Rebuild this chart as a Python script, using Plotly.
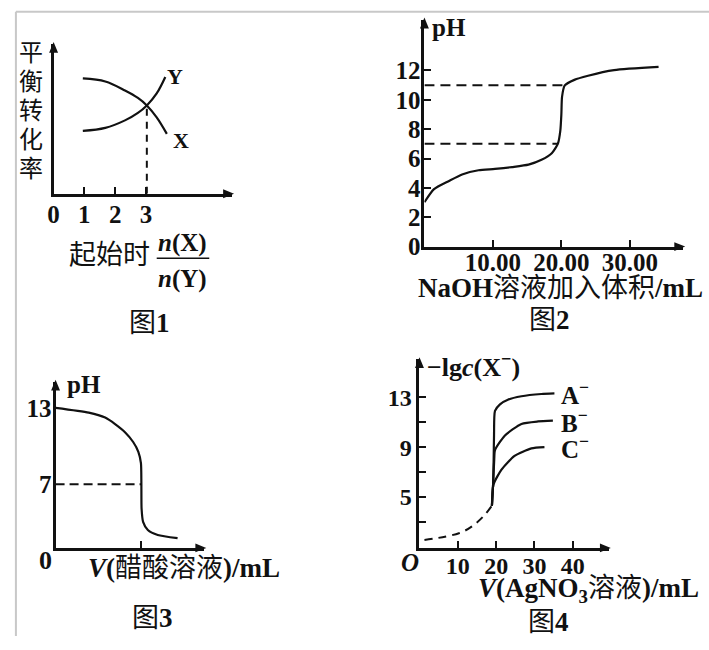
import plotly.graph_objects as go

W, H = 709, 650

# ---------------- data ----------------
# 图1  equilibrium conversion vs n(X)/n(Y)
f1_ratio_Y = [0.95, 1.68, 2.32, 2.74, 3.03, 3.35, 3.63]
f1_conv_Y = [0.42, 0.44, 0.49, 0.54, 0.59, 0.67, 0.78]
f1_ratio_X = [0.95, 1.68, 2.32, 2.74, 3.03, 3.35, 3.68]
f1_conv_X = [0.77, 0.75, 0.69, 0.64, 0.59, 0.51, 0.40]
f1_ticks = [0, 1, 2, 3]
f1_cross_ratio = [3.03, 3.03]
f1_cross_conv = [0, 0.59]

# 图2  pH vs V(NaOH)
f2_vol = [0, 1.4, 3.6, 5.5, 7.9, 10.3, 12.8, 15.2, 17.1, 18.6, 19.5, 19.85, 20.0,
          20.1, 20.5, 21.9, 23.9, 27.7, 34.2]
f2_ph = [3.02, 3.91, 4.47, 4.91, 5.2, 5.29, 5.42, 5.58, 5.91, 6.36, 7.02, 7.9, 9.0,
         10.2, 10.98, 11.36, 11.64, 12.02, 12.24]
f2_guide_ph = [7, 11]
f2_guide_vol_end = [19.5, 20.5]
f2_yticks = [0, 2, 4, 6, 8, 10, 12]
f2_xticks = [10, 20, 30]
f2_xticklabels = ["10.00", "20.00", "30.00"]

# 图3  pH vs V(醋酸)
f3_vol = [0, 7.7, 11.5, 13.8, 16.1, 18.0, 19.2, 19.8, 19.9, 19.95, 20.3, 21.4, 23.7, 28.3]
f3_ph = [13.02, 12.64, 12.25, 11.74, 11.1, 10.33, 9.56, 8.67, 7.13, 5.08, 4.05, 3.41, 3.02, 2.77]
f3_yticks = [13, 7]
f3_eq_vol = 19.9

# 图4  -lgc(X-) vs V(AgNO3)
f4_dash_vol = [1.3, 10.3, 13.7, 16.8, 18.9]
f4_dash_val = [1.55, 2.1, 2.65, 3.5, 4.3]
f4_A_vol = [18.9, 19.2, 19.35, 19.45, 19.7, 21.0, 23.2, 26.6, 31.8, 35.2]
f4_A_val = [4.3, 6.0, 8.0, 10.0, 11.9, 12.43, 12.82, 13.08, 13.26, 13.31]
f4_B_vol = [18.9, 19.2, 19.5, 19.7, 22.3, 26.6, 30.9, 34.8]
f4_B_val = [4.3, 6.0, 8.0, 8.76, 9.94, 10.86, 11.06, 11.12]
f4_C_vol = [18.9, 19.3, 21.4, 24.8, 29.2, 32.6]
f4_C_val = [4.3, 6.0, 7.2, 8.3, 8.9, 9.0]
f4_ions = ["A", "B", "C"]
f4_yticks = [13, 9, 5]
f4_yminor = [11, 7, 3]
f4_xticks = [10, 20, 30, 40]

# ---------------- helpers ----------------
MIX = "Liberation Serif, Noto Sans CJK SC, serif"
BLACK = "#111111"


def px(x):
    return x / W


def py(y):
    return 1 - y / H


def xdom(a, b):
    return [px(a), px(b)]


def ydom(bottom, top):
    return [py(bottom), py(top)]


def axis(domain, rng, anchor, fs=25, **kw):
    d = dict(domain=domain, range=rng, anchor=anchor, showline=True, linecolor=BLACK,
             linewidth=3, showgrid=False, zeroline=False, ticks="", fixedrange=True,
             tickfont=dict(family=MIX, size=fs, color=BLACK, weight="bold"), ticklen=7,
             tickwidth=2, tickcolor=BLACK, showticklabels=False)
    d.update(kw)
    return d


line = dict(color=BLACK, width=2.2)

fig = go.Figure()

# Fig 1 traces
fig.add_trace(go.Scatter(x=f1_ratio_Y, y=f1_conv_Y, mode="lines", line=dict(line, shape="spline"),
                         xaxis="x", yaxis="y"))
fig.add_trace(go.Scatter(x=f1_ratio_X, y=f1_conv_X, mode="lines", line=dict(line, shape="spline"),
                         xaxis="x", yaxis="y"))
fig.add_trace(go.Scatter(x=f1_cross_ratio, y=f1_cross_conv, mode="lines",
                         line=dict(color=BLACK, width=2, dash="7px,6px"), xaxis="x", yaxis="y"))

# Fig 2 traces
for ph, vend in zip(f2_guide_ph, f2_guide_vol_end):
    fig.add_trace(go.Scatter(x=[0, vend], y=[ph, ph], mode="lines",
                             line=dict(color=BLACK, width=2, dash="10px,6px"), xaxis="x2", yaxis="y2"))
fig.add_trace(go.Scatter(x=f2_vol, y=f2_ph, mode="lines", line=dict(line, shape="spline", smoothing=0.6),
                         xaxis="x2", yaxis="y2"))

# Fig 3 traces
fig.add_trace(go.Scatter(x=[0, f3_eq_vol], y=[7, 7], mode="lines",
                         line=dict(color=BLACK, width=2, dash="9px,5px"), xaxis="x3", yaxis="y3"))
fig.add_trace(go.Scatter(x=f3_vol, y=f3_ph, mode="lines", line=dict(line, shape="spline", smoothing=0.6),
                         xaxis="x3", yaxis="y3"))

# Fig 4 traces
fig.add_trace(go.Scatter(x=f4_dash_vol, y=f4_dash_val, mode="lines",
                         line=dict(color=BLACK, width=2, dash="8px,6px", shape="spline"),
                         xaxis="x4", yaxis="y4"))
for vx, vy in [(f4_A_vol, f4_A_val), (f4_B_vol, f4_B_val), (f4_C_vol, f4_C_val)]:
    fig.add_trace(go.Scatter(x=vx, y=vy, mode="lines", line=dict(line, shape="spline", smoothing=0.6),
                             xaxis="x4", yaxis="y4"))

# ---------------- axes ----------------
ranges = {
    1: ([0, 5.8], [0, 1]),
    2: ([0, 37.8], [0, 15.47]),
    3: ([0, 34.5], [2, 15.08]),
    4: ([0, 49.4], [0.92, 16.06]),
}
# pixel frame of each panel: (left, right, bottom, top)
frames = {1: (48, 228, 198, 45), 2: (422, 683, 252, 20), 3: (50, 200, 560, 390), 4: (417, 608, 560, 367)}

layout = dict(
    width=W, height=H, margin=dict(l=0, r=0, t=0, b=0),
    paper_bgcolor="white", plot_bgcolor="rgba(0,0,0,0)", showlegend=False,
    xaxis=axis(xdom(48, 228), ranges[1][0], "y", tickvals=f1_ticks, showticklabels=True,
               ticks="inside", ticklabelstandoff=-4),
    yaxis=axis(ydom(198, 45), ranges[1][1], "x"),
    xaxis2=axis(xdom(422, 683), ranges[2][0], "y2", tickvals=f2_xticks, ticktext=f2_xticklabels,
                showticklabels=True, ticks="inside", ticklabelstandoff=-9),
    yaxis2=axis(ydom(252, 20), ranges[2][1], "x2", tickvals=f2_yticks, showticklabels=True,
                ticks="inside", ticklabelstandoff=-4),
    xaxis3=axis(xdom(50, 200), ranges[3][0], "y3", tickvals=[f3_eq_vol], ticks="inside"),
    yaxis3=axis(ydom(560, 390), ranges[3][1], "x3", tickvals=f3_yticks, showticklabels=True,
                ticklabelstandoff=-4),
    xaxis4=axis(xdom(417, 608), ranges[4][0], "y4", fs=24, tickvals=f4_xticks, showticklabels=True,
                ticks="inside", ticklabelstandoff=-6),
    yaxis4=axis(ydom(560, 367), ranges[4][1], "x4", fs=24, tickvals=f4_yticks, showticklabels=True,
                ticks="inside",
                minor=dict(tickvals=f4_yminor, ticks="inside", ticklen=7, tickwidth=2,
                           tickcolor=BLACK)),
)
fig.update_layout(**layout)

ann = []


def text(x, y, s, size=26, xanchor="center", yanchor="middle"):
    ann.append(dict(x=px(x), y=py(y), xref="paper", yref="paper", text=s, showarrow=False,
                    xanchor=xanchor, yanchor=yanchor, font=dict(family=MIX, size=size, color=BLACK)))


# Fig 1 text
for i, ch in enumerate("平衡转化率"):
    text(25, 54 + 29.7 * i, ch, size=24)
text(170, 78, "<b>Y</b>", size=22)
text(176, 144, "<b>X</b>", size=22)
text(104, 261, "起始时", size=27)
text(178, 248, "<b><i>n</i>(X)</b>", size=25)
text(178, 285, "<b><i>n</i>(Y)</b>", size=25)
text(145, 330, "图<b>1</b>", size=27)

# Fig 2 text
text(428, 28, "<b>pH</b>", xanchor="left", size=25)
text(559, 294, "<b>NaOH</b>溶液加入体积<b>/mL</b>", size=27)
text(548, 327, "图<b>2</b>", size=27)

# Fig 3 text
text(60, 393, "<b>pH</b>", xanchor="left", size=25)
text(40, 573, "<b>0</b>", size=26)
text(180, 580, "<b><i>V</i>(</b>醋酸溶液<b>)/mL</b>", size=27)
text(148, 632, "图<b>3</b>", size=27)

# Fig 4 text
text(423, 374, "<b>−lg<i>c</i>(X<sup>−</sup>)</b>", xanchor="left", size=26)
text(407, 575, "<b><i>O</i></b>", size=25)
for ion, vy in zip(f4_ions, [f4_A_val[-1], f4_B_val[-1], f4_C_val[-1]]):
    ann.append(dict(x=36.4, y=vy, xref="x4", yref="y4", text="<b>" + ion + "<sup>−</sup></b>",
                    showarrow=False, xanchor="left", yanchor="middle",
                    font=dict(family=MIX, size=25, color=BLACK)))
text(587, 603, "<b><i>V</i>(AgNO<sub>3</sub></b>溶液<b>)/mL</b>", size=27)
text(547, 636, "图<b>4</b>", size=27)

fig.update_layout(annotations=ann)

shapes = [
    dict(type="line", xref="paper", yref="paper", x0=px(152), x1=px(205), y0=py(264), y1=py(264),
         line=dict(color=BLACK, width=1.5)),
    dict(type="line", xref="paper", yref="paper", x0=px(10), x1=1, y0=py(12), y1=py(12),
         line=dict(color="#c8c8c8", width=2)),
    dict(type="line", xref="paper", yref="paper", x0=px(10), x1=px(10), y0=py(12), y1=0,
         line=dict(color="#c8c8c8", width=2)),
]
# axis arrowheads
for k, (l, r, b, t) in frames.items():
    shapes.append(dict(type="path", xref="paper", yref="paper", fillcolor=BLACK, line=dict(width=0),
                       path=f"M{px(r + 2)},{py(b)} L{px(r - 9)},{py(b - 4.5)} L{px(r - 9)},{py(b + 4.5)} Z"))
    shapes.append(dict(type="path", xref="paper", yref="paper", fillcolor=BLACK, line=dict(width=0),
                       path=f"M{px(l)},{py(t - 2)} L{px(l - 4.5)},{py(t + 9)} L{px(l + 4.5)},{py(t + 9)} Z"))
fig.update_layout(shapes=shapes)

fig.write_html("out.html", config={"displayModeBar": False},
               post_script="document.body.style.margin='0px';")
